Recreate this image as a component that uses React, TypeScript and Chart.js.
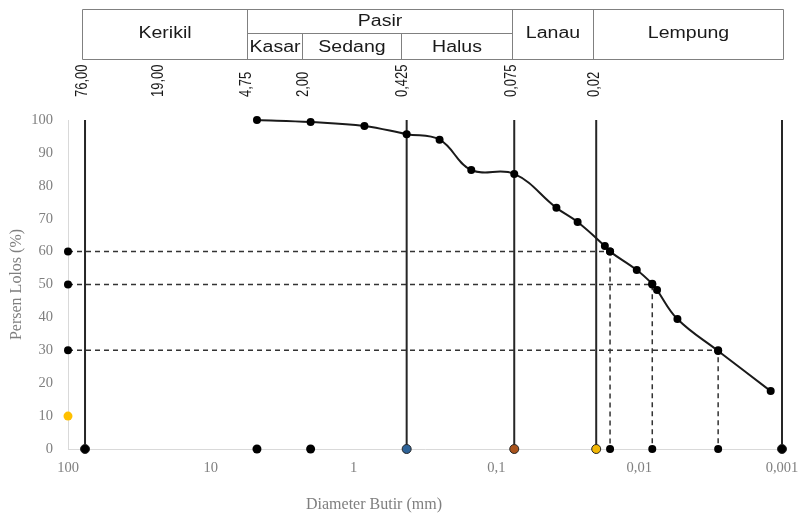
import React, { useEffect, useRef } from 'react';
import { Chart, registerables } from 'chart.js';

Chart.register(...registerables);

// Axis ticks
const xTicks = [100, 10, 1, 0.1, 0.01, 0.001];
const yTicksMin = 0;
const yTicksMax = 100;
const yTickStep = 10;

// Gradation curve (diameter mm, percent passing)
const curveDiameters = [4.75, 2.0, 0.84, 0.425, 0.25, 0.15, 0.075, 0.038, 0.027, 0.0174, 0.016, 0.0104, 0.0081, 0.0075, 0.0054, 0.0028, 0.0012];
const curvePassing = [100, 99.4, 98.2, 95.7, 94.0, 84.8, 83.6, 73.3, 69.0, 61.7, 60.0, 54.4, 50.2, 48.3, 39.5, 29.8, 17.6];

// D60 / D50 / D30 helper lines
const dPercents = [60, 50, 30];
const dDiameters = [0.016, 0.0081, 0.0028];

// Vertical boundary lines (sieve sizes)
const boundaryDiameters = [76, 0.425, 0.075, 0.02, 0.001];
const boundaryDotColors = ['#000000', '#2E6398', '#A9531C', '#F2B705', '#000000'];

// Extra dots on the x axis and the left edge
const axisDotDiameters = [4.75, 2.0];
const edgeDot = { x: 100, y: 10 };

// Overlay labels (sieve sizes) and classification table
const sieveLabelTexts = ['76,00', '19,00', '4,75', '2,00', '0,425', '0,075', '0,02'];
const sieveLabelAt = [81, 23.8, 5.76, 2.3, 0.466, 0.0803, 0.0211];
const tableEdgesAt = [80, 5.58, 2.3, 0.466, 0.0778, 0.0211, 0.00098];
const tableCells = [
  { text: 'Kerikil', from: 0, to: 1, row: 'full' },
  { text: 'Pasir', from: 1, to: 4, row: 'top' },
  { text: 'Kasar', from: 1, to: 2, row: 'bottom' },
  { text: 'Sedang', from: 2, to: 3, row: 'bottom' },
  { text: 'Halus', from: 3, to: 4, row: 'bottom' },
  { text: 'Lanau', from: 4, to: 5, row: 'full' },
  { text: 'Lempung', from: 5, to: 6, row: 'full' },
];

const xTitle = 'Diameter Butir (mm)';
const yTitle = 'Persen Lolos (%)';

const overlayPlugin = {
  id: 'overlay',
  afterDraw(chart: any) {
    const ctx = chart.ctx as CanvasRenderingContext2D;
    const xs = chart.scales.x;
    const ca = chart.chartArea;
    const px = (v: number) => xs.getPixelForValue(v);
    ctx.save();

    // table
    const T = 9.5, M = 33.5, B = 59.5;
    const e = tableEdgesAt.map((v) => Math.round(px(v)) + 0.5);
    ctx.strokeStyle = '#808080';
    ctx.lineWidth = 1;
    ctx.beginPath();
    ctx.rect(e[0], T, e[6] - e[0], B - T);
    [1, 4, 5].forEach((i) => { ctx.moveTo(e[i], T); ctx.lineTo(e[i], B); });
    [2, 3].forEach((i) => { ctx.moveTo(e[i], M); ctx.lineTo(e[i], B); });
    ctx.moveTo(e[1], M); ctx.lineTo(e[4], M);
    ctx.stroke();

    ctx.fillStyle = '#1a1a1a';
    ctx.font = '16px "Liberation Sans", Arial, sans-serif';
    ctx.textAlign = 'center';
    ctx.textBaseline = 'middle';
    tableCells.forEach((c) => {
      const cx = (e[c.from] + e[c.to]) / 2;
      const cy = c.row === 'full' ? (T + B) / 2 - 1 : c.row === 'top' ? (T + M) / 2 : (M + B) / 2 + 1;
      ctx.save();
      ctx.translate(cx, cy);
      ctx.scale(1.22, 1);
      ctx.fillText(c.text, 0, 0);
      ctx.restore();
    });

    // rotated sieve labels
    ctx.font = '13px "Liberation Sans", Arial, sans-serif';
    ctx.textAlign = 'left';
    ctx.textBaseline = 'alphabetic';
    sieveLabelTexts.forEach((t, i) => {
      const cx = px(sieveLabelAt[i]);
      ctx.save();
      ctx.translate(cx + 6, 97);
      ctx.scale(1.3, 1);
      ctx.rotate(-Math.PI / 2);
      ctx.fillText(t, 0, 0);
      ctx.restore();
    });

    // axis titles
    ctx.fillStyle = '#7f7f7f';
    ctx.font = '16px "Liberation Serif", "Times New Roman", serif';
    ctx.textAlign = 'center';
    ctx.textBaseline = 'middle';
    ctx.fillText(xTitle, 374, 505);
    ctx.save();
    ctx.translate(17, (ca.top + ca.bottom) / 2);
    ctx.rotate(-Math.PI / 2);
    ctx.fillText(yTitle, 0, 0);
    ctx.restore();

    ctx.restore();
  },
};

export default function App() {
  const canvasRef = useRef<HTMLCanvasElement | null>(null);

  useEffect(() => {
    document.body.style.margin = '0';
    const canvas = canvasRef.current;
    if (!canvas) return;

    const datasets: any[] = [];

    datasets.push({
      label: 'curve',
      data: curveDiameters.map((d, i) => ({ x: d, y: curvePassing[i] })),
      showLine: true,
      borderColor: '#1a1a1a',
      borderWidth: 2,
      tension: 0.4,
      pointRadius: 4,
      pointBackgroundColor: '#000',
      pointBorderColor: '#000',
      pointBorderWidth: 0,
      clip: false,
    });

    dPercents.forEach((p, i) => {
      datasets.push({
        label: 'D' + p,
        data: [
          { x: 100, y: p },
          { x: dDiameters[i], y: p },
          { x: dDiameters[i], y: 0 },
        ],
        showLine: true,
        borderColor: '#333333',
        borderWidth: 1.5,
        borderDash: [5, 4],
        tension: 0,
        pointRadius: 4,
        pointBackgroundColor: '#000',
        pointBorderColor: '#000',
        pointBorderWidth: 0,
        clip: false,
      });
    });

    boundaryDiameters.forEach((d, i) => {
      datasets.push({
        label: 'b' + d,
        data: [
          { x: d, y: 0 },
          { x: d, y: 100 },
        ],
        showLine: true,
        borderColor: '#262626',
        borderWidth: 2,
        tension: 0,
        pointRadius: [4.5, 0],
        pointBackgroundColor: boundaryDotColors[i],
        pointBorderColor: '#262626',
        pointBorderWidth: 1,
        clip: false,
      });
    });

    datasets.push({
      label: 'axisDots',
      data: axisDotDiameters.map((d) => ({ x: d, y: 0 })),
      showLine: false,
      pointRadius: 4.5,
      pointBackgroundColor: '#000',
      pointBorderColor: '#000',
      pointBorderWidth: 0,
      clip: false,
    });

    datasets.push({
      label: 'edgeDot',
      data: [edgeDot],
      showLine: false,
      pointRadius: 4.5,
      pointBackgroundColor: '#FFC000',
      pointBorderColor: '#FFC000',
      pointBorderWidth: 0,
      clip: false,
    });

    const chart = new Chart(canvas, {
      type: 'scatter',
      data: { datasets },
      options: {
        animation: false,
        responsive: true,
        maintainAspectRatio: false,
        events: [],
        layout: { padding: { top: 120, right: 19, left: 0, bottom: 0 } },
        plugins: { legend: { display: false }, tooltip: { enabled: false } },
        scales: {
          x: {
            type: 'logarithmic',
            min: 0.001,
            max: 100,
            reverse: true,
            afterBuildTicks: (scale: any) => {
              scale.ticks = xTicks.map((v) => ({ value: v }));
            },
            afterFit: (scale: any) => {
              scale.height = 66;
              scale.paddingLeft = 0;
              scale.paddingRight = 0;
            },
            grid: { display: true, drawOnChartArea: false, drawTicks: false },
            border: { display: true, color: '#d9d9d9', width: 1 },
            ticks: {
              autoSkip: false,
              maxRotation: 0,
              minRotation: 0,
              padding: 10,
              color: '#7f7f7f',
              font: { family: '"Liberation Serif", "Times New Roman", serif', size: 14.5 },
              callback: (v: any) => String(v).replace('.', ','),
            },
          },
          y: {
            type: 'linear',
            min: yTicksMin,
            max: yTicksMax,
            afterFit: (scale: any) => {
              scale.width = 68;
            },
            grid: { display: true, drawOnChartArea: false, drawTicks: false },
            border: { display: true, color: '#d9d9d9', width: 1 },
            ticks: {
              stepSize: yTickStep,
              padding: 15,
              color: '#7f7f7f',
              font: { family: '"Liberation Serif", "Times New Roman", serif', size: 14.5 },
            },
          },
        },
      },
      plugins: [overlayPlugin],
    });

    return () => chart.destroy();
  }, []);

  return (
    <div style={{ position: 'relative', width: 801, height: 515 }}>
      <canvas ref={canvasRef} />
    </div>
  );
}
